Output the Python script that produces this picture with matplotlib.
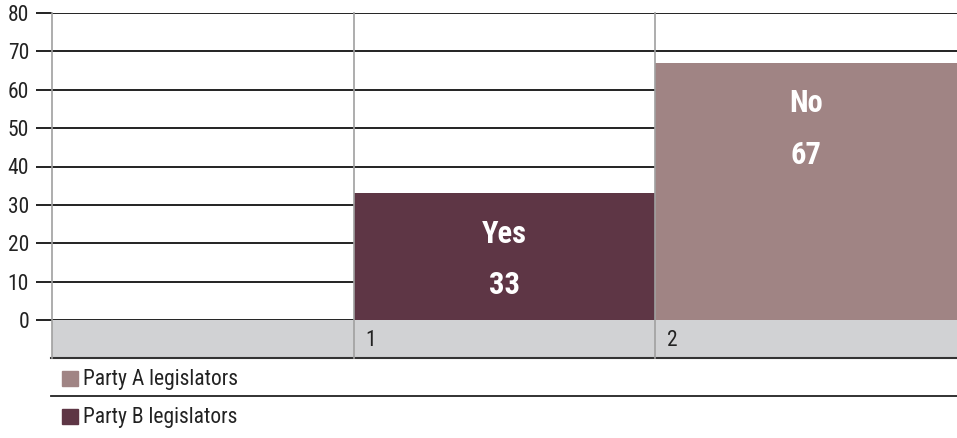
import matplotlib.pyplot as plt
from matplotlib import font_manager
from matplotlib.patches import Rectangle
from matplotlib.lines import Line2D

# --- Data ---
slots = ['', '1', '2']
party_a = [0, 0, 67]
party_b = [0, 33, 0]
bar_labels = ['', 'Yes', 'No']
series_names = ['Party A legislators', 'Party B legislators']
y_ticks = [0, 10, 20, 30, 40, 50, 60, 70, 80]

# --- Style ---
COL_A = '#a08484'
COL_B = '#5e3645'
TABLE_BG = '#d1d2d4'
VLINE = '#a0a0a0'
TXT = '#222222'

# pick a narrow face if one is around
names = {f.name for f in font_manager.fontManager.ttflist}
narrow = [n for n in ['Liberation Sans Narrow', 'Roboto Condensed', 'DejaVu Sans Condensed',
                      'Open Sans Condensed'] if n in names]
FONT = narrow[:1] + ['Roboto', 'DejaVu Sans']
plt.rcParams['font.family'] = FONT
STRETCH = 'condensed'

W, H = 957, 438
fig = plt.figure(figsize=(W / 100, H / 100), dpi=100)


def fx(px):
    return px / W


def fy(py):
    return 1 - py / H


ax_left, ax_right = 52, 957
top, zero, table_bot = 13, 320, 358

ax = fig.add_axes([fx(ax_left), fy(zero), fx(ax_right - ax_left), (zero - top) / H])
x = list(range(len(slots)))
ax.bar(x, party_a, width=1, align='edge', color=COL_A, zorder=3)
ax.bar(x, party_b, width=1, align='edge', color=COL_B, zorder=3)
ax.set_xlim(0, 3)
ax.set_ylim(0, 80)
ax.set_yticks(y_ticks)
ax.set_yticklabels([str(t) for t in y_ticks], fontsize=15.5, color=TXT, fontstretch=STRETCH)
ax.tick_params(axis='y', length=11.5, width=1.3, color='#111111', pad=5)
ax.set_xticks([])
for t in y_ticks:
    ax.axhline(t, color='#111111', lw=1.3, zorder=2)
for s in ax.spines.values():
    s.set_visible(False)

# category + value labels hang a fixed distance below the bar top
for i in x:
    val = max(party_a[i], party_b[i])
    if val == 0:
        continue
    ax.text(i + 0.5, val - 10.5, bar_labels[i], ha='center', va='center', color='white',
            fontsize=22, fontweight='bold', fontstretch=STRETCH, zorder=4)
    ax.text(i + 0.5, val - 24, str(val), ha='center', va='center', color='white',
            fontsize=22, fontweight='bold', fontstretch=STRETCH, zorder=4)

# --- Category table row ---
tab = fig.add_axes([fx(ax_left), fy(table_bot), fx(ax_right - ax_left), (table_bot - zero) / H])
tab.set_xlim(0, 3)
tab.set_ylim(0, 1)
tab.axis('off')
tab.add_patch(Rectangle((0, 0), 3, 1, color=TABLE_BG, zorder=1))
for i, lab in enumerate(slots):
    if lab:
        tab.text(i + 0.04, 0.47, lab, ha='left', va='center', fontsize=15.5,
                 color=TXT, fontstretch=STRETCH)

# vertical separators across plot + table
for i in x:
    xp = fx(ax_left + i * (ax_right - ax_left) / 3)
    fig.add_artist(Line2D([xp, xp], [fy(top), fy(table_bot)], color=VLINE, lw=1.2, zorder=5))

# table bottom line and legend separator
fig.add_artist(Line2D([fx(51), 1], [fy(table_bot), fy(table_bot)], color='#333333', lw=1.5))
fig.add_artist(Line2D([fx(51), 1], [fy(396), fy(396)], color='#222222', lw=1.3))

# --- Legend rows ---
for name, col, ypx in [(series_names[0], COL_A, 379), (series_names[1], COL_B, 417)]:
    fig.add_artist(Rectangle((fx(62), fy(ypx + 7)), fx(16), 15 / H, color=col))
    fig.text(fx(83), fy(ypx), name, ha='left', va='center', fontsize=15.5,
             color=TXT, fontstretch=STRETCH)

fig.savefig('out.png', dpi=100)
